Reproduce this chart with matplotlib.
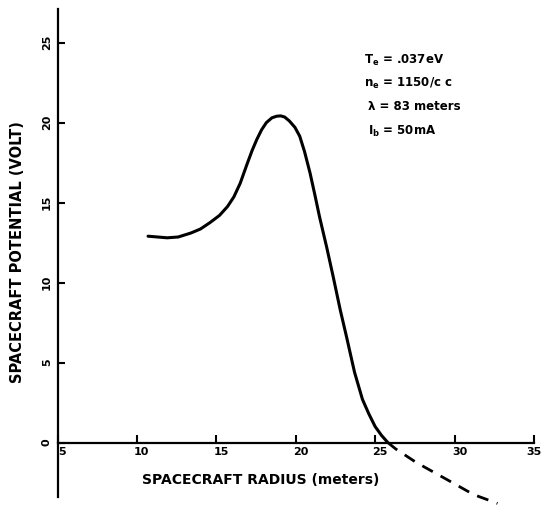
import matplotlib
matplotlib.use("Agg")
import matplotlib.pyplot as plt
from matplotlib.transforms import ScaledTranslation

# ---- data ----
solid_x = [10.7, 11.3, 11.9, 12.6, 13.4, 14.0, 14.6, 15.2, 15.7, 16.1, 16.5, 16.95,
           17.25, 17.55, 17.85, 18.15, 18.5, 18.8, 19.05, 19.3, 19.6, 19.95, 20.25,
           20.55, 20.9, 21.2, 21.5, 21.95, 22.35, 22.8, 23.2, 23.7, 24.2, 24.6,
           25.0, 25.4, 25.8]
solid_y = [12.9, 12.85, 12.8, 12.85, 13.1, 13.35, 13.75, 14.2, 14.75, 15.35, 16.2, 17.45,
           18.25, 18.95, 19.55, 20.0, 20.3, 20.4, 20.42, 20.35, 20.1, 19.7, 19.15,
           18.2, 16.85, 15.5, 14.1, 12.2, 10.4, 8.3, 6.6, 4.4, 2.7, 1.8,
           1.0, 0.45, 0.0]
dashed_x = [25.8, 26.3, 27.6, 29.5, 31.2, 32.7]
dashed_y = [0.0, -0.4, -1.25, -2.3, -3.25, -3.8]

x_ticks = [5, 10, 15, 20, 25, 30, 35]
y_ticks = [0, 5, 10, 15, 20, 25]
x_tick_labels = ["5", "10", "15", "20", "25", "30", "35"]
y_tick_labels = ["0", "5", "10", "15", "20", "25"]

params = [r"T$_{e}$ = .037eV", r"n$_{e}$ = 1150/c c", "λ = 83 meters", r"I$_{b}$ = 50mA"]

plt.rcParams['font.family'] = ['DejaVu Sans']
plt.rcParams['mathtext.default'] = 'bf'

fig = plt.figure(figsize=(5.41, 5.05), dpi=100)
ax = fig.add_axes([57.5 / 541, 0.0, (534 - 57.5) / 541, (505 - 9) / 505])

ax.plot(solid_x, solid_y, color='black', lw=2.2, solid_capstyle='round',
        solid_joinstyle='round')
ax.plot(dashed_x, dashed_y, color='black', lw=2.0, linestyle=(0, (4.3, 3.2)))

ax.set_xlim(5, 35)
ax.set_ylim(-3.9, 27.1)

for s in ['top', 'right']:
    ax.spines[s].set_visible(False)
ax.spines['bottom'].set_position(('data', 0))
ax.spines['left'].set_bounds(-3.4, 27.1)
ax.spines['left'].set_linewidth(1.6)
ax.spines['bottom'].set_linewidth(1.6)

ax.set_xticks(x_ticks)
ax.set_xticklabels(x_tick_labels, fontsize=8, fontweight='bold')
ax.set_yticks(y_ticks)
ax.set_yticklabels(y_tick_labels, fontsize=8, fontweight='bold', rotation=90, va='center')
ax.tick_params(axis='x', direction='in', length=6, width=1.5, pad=3)
ax.tick_params(axis='y', direction='in', length=5, width=1.5, pad=4)

labs = ax.get_xticklabels()
for i, lab in enumerate(labs):
    dx = 3.5 if i < len(labs) - 1 else 0.0
    lab.set_transform(lab.get_transform() + ScaledTranslation(dx / 72, 0, fig.dpi_scale_trans))

ax.set_ylabel("SPACECRAFT POTENTIAL (VOLT)", fontsize=10.5, fontweight='bold')
ax.yaxis.set_label_coords(-0.068, 0.51)

ax.text(0.427, 0.05, "SPACECRAFT RADIUS (meters)", transform=ax.transAxes,
        fontsize=10, fontweight='bold', ha='center', va='center')

ys_px = [60, 83, 107, 131]
xs_px = [364, 364, 368, 368]
for t, yp, xp in zip(params, ys_px, xs_px):
    fig.text(xp / 541, 1 - yp / 505, t, fontsize=8.5, fontweight='bold',
             ha='left', va='center')

fig.savefig("out.png", dpi=100)
